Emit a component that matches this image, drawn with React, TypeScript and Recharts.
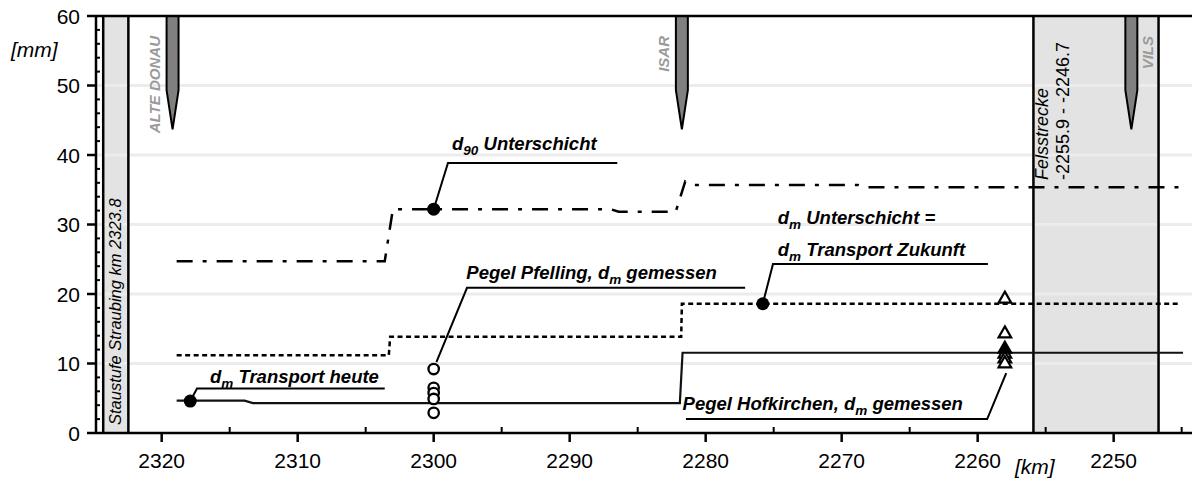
import React from "react";
import {
  ComposedChart,
  Line,
  Scatter,
  XAxis,
  YAxis,
  ReferenceArea,
  ReferenceLine,
} from "recharts";

const FONT = "'Liberation Sans', Arial, sans-serif";

// axis ticks
const kmTicks = [2320, 2315, 2310, 2305, 2300, 2295, 2290, 2285, 2280, 2275, 2270, 2265, 2260, 2255, 2250, 2245];
const kmLabels = [2320, 2310, 2300, 2290, 2280, 2270, 2260, 2250];
const mmTicks = [0, 2, 4, 6, 8, 10, 12, 14, 16, 18, 20, 22, 24, 26, 28, 30, 32, 34, 36, 38, 40, 42, 44, 46, 48, 50, 52, 54, 56, 58, 60];
const mmLabels = [0, 10, 20, 30, 40, 50, 60];
const gridValues = [10, 20, 30, 40, 50];

// d90 Unterschicht (dash-dot)
const d90Unterschicht = [
  { km: 2318.9, v: 24.7 },
  { km: 2303.6, v: 24.7 },
  { km: 2303.0, v: 32.2 },
  { km: 2287.0, v: 32.2 },
  { km: 2286.4, v: 31.85 },
  { km: 2282.2, v: 31.85 },
  { km: 2281.5, v: 36.2 },
  { km: 2280.8, v: 35.7 },
  { km: 2268.8, v: 35.7 },
  { km: 2268.3, v: 35.35 },
  { km: 2245.1, v: 35.35 },
];

// dm Unterschicht = dm Transport Zukunft (dotted)
const dmZukunft = [
  { km: 2318.9, v: 11.2 },
  { km: 2303.3, v: 11.2 },
  { km: 2303.2, v: 13.85 },
  { km: 2281.8, v: 13.85 },
  { km: 2281.75, v: 18.6 },
  { km: 2245.1, v: 18.6 },
];

// dm Transport heute (solid)
const dmHeute = [
  { km: 2318.9, v: 4.65 },
  { km: 2313.9, v: 4.65 },
  { km: 2313.3, v: 4.3 },
  { km: 2281.9, v: 4.3 },
  { km: 2281.7, v: 11.55 },
  { km: 2244.9, v: 11.55 },
];

// labelled points on the lines
const keyPoints = [
  { km: 2300.0, v: 32.2 },
  { km: 2275.8, v: 18.6 },
  { km: 2317.9, v: 4.6 },
];

// measured values
const pfelling = [
  { km: 2300.0, v: 9.2 },
  { km: 2300.0, v: 6.5 },
  { km: 2300.0, v: 5.75 },
  { km: 2300.0, v: 4.9 },
  { km: 2300.0, v: 2.9 },
];
const hofkirchen = [
  { km: 2258.0, v: 19.4 },
  { km: 2258.0, v: 14.4 },
  { km: 2258.0, v: 11.5 },
  { km: 2258.0, v: 10.8 },
  { km: 2258.0, v: 10.1 },
];
const hofkirchenFilled = [{ km: 2258.0, v: 12.2 }];

// leader lines for the annotations
const leaders = [
  [{ km: 2300.0, v: 32.2 }, { km: 2298.95, v: 38.85 }, { km: 2286.5, v: 38.85 }],
  [{ km: 2275.8, v: 18.6 }, { km: 2275.05, v: 24.3 }, { km: 2259.25, v: 24.3 }],
  [{ km: 2299.8, v: 10.2 }, { km: 2297.55, v: 20.9 }, { km: 2277.1, v: 20.9 }],
  [{ km: 2317.9, v: 4.6 }, { km: 2317.4, v: 6.4 }, { km: 2303.6, v: 6.4 }],
  [{ km: 2257.9, v: 8.6 }, { km: 2259.3, v: 2.0 }, { km: 2281.45, v: 2.0 }],
];

type Seg = { t: string; sub?: boolean };
const labels: { km: number; v: number; segs: Seg[] }[] = [
  { km: 2298.65, v: 40.7, segs: [{ t: "d" }, { t: "90", sub: true }, { t: " Unterschicht" }] },
  { km: 2274.7, v: 30.1, segs: [{ t: "d" }, { t: "m", sub: true }, { t: " Unterschicht =" }] },
  { km: 2274.7, v: 25.5, segs: [{ t: "d" }, { t: "m", sub: true }, { t: " Transport Zukunft" }] },
  { km: 2297.6, v: 22.2, segs: [{ t: "Pegel Pfelling, d" }, { t: "m", sub: true }, { t: " gemessen" }] },
  { km: 2316.45, v: 7.2, segs: [{ t: "d" }, { t: "m", sub: true }, { t: " Transport heute" }] },
  { km: 2281.7, v: 3.3, segs: [{ t: "Pegel Hofkirchen, d" }, { t: "m", sub: true }, { t: " gemessen" }] },
];

// tributaries
const rivers = [
  { name: "ALTE DONAU", km: 2319.2, side: "left" },
  { name: "ISAR", km: 2281.75, side: "left" },
  { name: "VILS", km: 2248.7, side: "right" },
];

// shaded reaches
const staustufe = { from: 2324.3, to: 2322.45, lines: ["Staustufe Straubing km 2323.8"] };
const felsstrecke = { from: 2255.9, to: 2246.7, lines: ["Felsstrecke", "-2255.9 - -2246.7"] };

function RichText({ x, y, segs }: { x: number; y: number; segs: Seg[] }) {
  let prevSub = false;
  return (
    <text x={x} y={y} fontFamily={FONT} fontSize={18.5} fontWeight="bold" fontStyle="italic" fill="#000">
      {segs.map((s, i) => {
        const dy = (s.sub ? 5 : 0) - (prevSub ? 5 : 0);
        prevSub = !!s.sub;
        return (
          <tspan key={i} dy={dy} fontSize={s.sub ? 13.5 : 18.5}>
            {s.t}
          </tspan>
        );
      })}
    </text>
  );
}

function KmTick(props: any) {
  const { x, y, payload } = props;
  const major = kmLabels.includes(payload.value);
  return (
    <g>
      {major ? (
        <line x1={x} x2={x} y1={y} y2={y + 9} stroke="#000" strokeWidth={2.5} />
      ) : (
        <line x1={x} x2={x} y1={y} y2={y - 6} stroke="#000" strokeWidth={2} />
      )}
      {major && (
        <text x={x} y={y + 35} textAnchor="middle" fontFamily={FONT} fontSize={21} fill="#000">
          {payload.value}
        </text>
      )}
    </g>
  );
}

function MmTick(props: any) {
  const { x, y, payload } = props;
  const major = mmLabels.includes(payload.value);
  return (
    <g>
      {major ? (
        <line x1={x - 9} x2={x} y1={y} y2={y} stroke="#000" strokeWidth={2.5} />
      ) : (
        <line x1={x} x2={x + 4} y1={y} y2={y} stroke="#000" strokeWidth={2} />
      )}
      {major && (
        <text x={x - 16} y={y} dy="0.36em" textAnchor="end" fontFamily={FONT} fontSize={21} fill="#000">
          {payload.value}
        </text>
      )}
    </g>
  );
}

const bandFill = (p: any) => <rect x={p.x} y={p.y} width={p.width} height={p.height} fill="#e3e3e3" />;

// light horizontal grid line drawn at the vertical centre of a reference area
const gridShape = (p: any) => {
  const cy = p.y + p.height / 2;
  return <line x1={p.x} x2={p.x + p.width} y1={cy} y2={cy} stroke="#ececec" strokeWidth={3} />;
};

function bandOverlay(lines: string[], fontSize: number, baseOffset: number, startFrom: "bottom" | number) {
  return (p: any) => {
    const { x, y, width, height } = p;
    const startY = startFrom === "bottom" ? y + height - 8 : startFrom;
    return (
      <g>
        <line x1={x} x2={x} y1={y} y2={y + height} stroke="#000" strokeWidth={2.5} />
        <line x1={x + width} x2={x + width} y1={y} y2={y + height} stroke="#000" strokeWidth={2.5} />
        {lines.map((t, i) => {
          const tx = x + baseOffset + i * 21;
          return (
            <text
              key={i}
              x={tx}
              y={startY}
              transform={`rotate(-90 ${tx} ${startY})`}
              fontFamily={FONT}
              fontSize={fontSize}
              fontStyle={i === 0 ? "italic" : "normal"}
              fill="#000"
            >
              {t}
            </text>
          );
        })}
      </g>
    );
  };
}

function riverShape(name: string, side: string) {
  return (p: any) => {
    const { x, y, width, height } = p;
    const xc = x + width / 2;
    const mid = y + height * 0.655;
    const tx = side === "left" ? xc - 13 : xc + 22;
    const ty = y + 20;
    return (
      <g>
        <polygon
          points={`${x},${y} ${x + width},${y} ${x + width},${mid} ${xc},${y + height} ${x},${mid}`}
          fill="#808080"
          stroke="#000"
          strokeWidth={2}
        />
        <text
          x={tx}
          y={ty}
          transform={`rotate(-90 ${tx} ${ty})`}
          textAnchor="end"
          fontFamily={FONT}
          fontSize={15}
          fontWeight="bold"
          fontStyle="italic"
          fill="#9a9a9a"
        >
          {name}
        </text>
      </g>
    );
  };
}

const openCircle = (p: any) => (
  <circle cx={p.cx} cy={p.cy} r={5.2} fill="#fff" stroke="#000" strokeWidth={2.3} />
);
const filledCircle = (p: any) => <circle cx={p.cx} cy={p.cy} r={6.5} fill="#000" />;
const triangle = (fill: string) => (p: any) => (
  <path
    d={`M${p.cx},${p.cy - 6.5} L${p.cx + 6.3},${p.cy + 4.5} L${p.cx - 6.3},${p.cy + 4.5} Z`}
    fill={fill}
    stroke="#000"
    strokeWidth={2.2}
    strokeLinejoin="miter"
  />
);
const labelShape = (p: any) => <RichText x={p.cx} y={p.cy} segs={p.payload.segs} />;

export default function App() {
  return (
    <div style={{ position: "absolute", left: 0, top: 0, width: 1192, height: 481, background: "#fff" }}>
      <ComposedChart width={1192} height={481} margin={{ top: 16, right: 0, bottom: 0, left: 0 }}>
        <XAxis
          type="number"
          dataKey="km"
          domain={[2244.24, 2324.83]}
          reversed
          allowDataOverflow
          ticks={kmTicks}
          interval={0}
          tickSize={0}
          tickMargin={0}
          tick={<KmTick />}
          height={48}
          axisLine={{ stroke: "#000", strokeWidth: 2.5 }}
          label={{
            content: (lp: any) => (
              <text
                x={lp.viewBox.x + 919}
                y={lp.viewBox.y + 41}
                fontFamily={FONT}
                fontSize={21}
                fontStyle="italic"
                fill="#000"
              >
                [km]
              </text>
            ),
          }}
        />
        <YAxis
          type="number"
          dataKey="v"
          domain={[0, 60]}
          allowDataOverflow
          ticks={mmTicks}
          interval={0}
          tickSize={0}
          tickMargin={0}
          tick={<MmTick />}
          width={96}
          axisLine={{ stroke: "#000", strokeWidth: 2.5 }}
          label={{
            content: () => (
              <text x={11} y={57} fontFamily={FONT} fontSize={21} fontStyle="italic" fill="#000">
                [mm]
              </text>
            ),
          }}
        />

        <ReferenceArea x1={staustufe.from} x2={staustufe.to} y1={0} y2={60} shape={bandFill} />
        <ReferenceArea x1={felsstrecke.from} x2={felsstrecke.to} y1={0} y2={60} shape={bandFill} />

        {gridValues.map((g) => (
          <ReferenceArea key={g} y1={g - 0.2} y2={g + 0.2} shape={gridShape} />
        ))}

        <ReferenceArea
          x1={staustufe.from}
          x2={staustufe.to}
          y1={0}
          y2={60}
          shape={bandOverlay(staustufe.lines, 16.5, 18, "bottom")}
        />
        <ReferenceArea
          x1={felsstrecke.from}
          x2={felsstrecke.to}
          y1={0}
          y2={60}
          shape={bandOverlay(felsstrecke.lines, 18, 15, 180)}
        />

        {rivers.map((r) => (
          <ReferenceArea
            key={r.name}
            x1={r.km + 0.44}
            x2={r.km - 0.44}
            y1={43.7}
            y2={60}
            shape={riverShape(r.name, r.side)}
          />
        ))}
        <ReferenceLine y={60} stroke="#000" strokeWidth={2.5} />

        <Line
          data={d90Unterschicht}
          dataKey="v"
          type="linear"
          stroke="#000"
          strokeWidth={2.5}
          strokeDasharray="16 10 4 10"
          dot={false}
          isAnimationActive={false}
        />
        <Line
          data={dmZukunft}
          dataKey="v"
          type="linear"
          stroke="#000"
          strokeWidth={2.5}
          strokeDasharray="5 3.5"
          dot={false}
          isAnimationActive={false}
        />
        <Line
          data={dmHeute}
          dataKey="v"
          type="linear"
          stroke="#111"
          strokeWidth={2.2}
          dot={false}
          isAnimationActive={false}
        />
        {leaders.map((l, i) => (
          <Line
            key={i}
            data={l}
            dataKey="v"
            type="linear"
            stroke="#000"
            strokeWidth={2}
            dot={false}
            isAnimationActive={false}
          />
        ))}

        <Scatter data={keyPoints} shape={filledCircle} isAnimationActive={false} />
        <Scatter data={pfelling} shape={openCircle} isAnimationActive={false} />
        <Scatter data={hofkirchen} shape={triangle("#fff")} isAnimationActive={false} />
        <Scatter data={hofkirchenFilled} shape={triangle("#000")} isAnimationActive={false} />
        <Scatter data={labels} shape={labelShape} isAnimationActive={false} />
      </ComposedChart>
    </div>
  );
}
